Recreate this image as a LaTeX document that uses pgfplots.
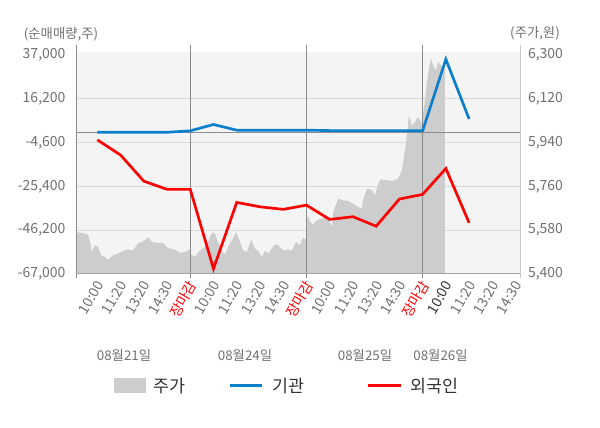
\documentclass[border=0pt]{standalone}
\usepackage{pgfplots}
\pgfplotsset{compat=1.18}
\usepackage{fontspec}
\setmainfont{Noto Sans CJK KR}
\definecolor{bgc}{HTML}{F4F4F4}
\definecolor{gridc}{HTML}{D9D9D9}
\definecolor{areac}{HTML}{CDCDCD}
\definecolor{darkc}{HTML}{8C8C8C}
\definecolor{tickc}{HTML}{707070}
\definecolor{bluec}{HTML}{0A7FCC}
\definecolor{redc}{HTML}{FF0000}
\definecolor{legc}{HTML}{333333}
\begin{document}
\begin{tikzpicture}
\useasboundingbox (0,0) rectangle (450pt,321pt);
% price axis (right)
\begin{axis}[
  at={(57pt,115.5pt)}, anchor=south west,
  width=333pt, height=166.5pt, scale only axis,
  xmin=-0.917, xmax=18.19,
  ymin=5400, ymax=6312.3,
  ytick={5580,5760,5940,6120},
  extra y ticks={5400,6300},
  extra y tick style={grid=none},
  yticklabel pos=right,
  xtick=\empty,
  axis line style={draw=none},
  major tick length=0pt,
  ymajorgrids, grid style={color=gridc, line width=0.75pt},
  axis background/.style={fill=bgc},
  scaled y ticks=false,
  yticklabel style={font=\fontsize{10.5}{12}\selectfont, text=tickc, anchor=west, inner sep=0pt, xshift=5.8pt},
  /pgf/number format/.cd, 1000 sep={,}, assume math mode=true,
]
\addplot[fill=areac, draw=none] coordinates {
(-0.917,5400) (-0.917,5572) (-0.74,5570) (-0.53,5566) (-0.40,5560) (-0.31,5532)
(-0.23,5490) (-0.10,5518) (0.03,5511) (0.16,5477) (0.33,5470) (0.46,5459)
(0.68,5477) (0.89,5484) (1.19,5497) (1.32,5500) (1.54,5497) (1.75,5525)
(1.97,5534) (2.18,5550) (2.35,5532) (2.57,5528) (2.80,5529) (3.04,5507)
(3.34,5500) (3.56,5488) (3.77,5490) (3.99,5501) (4.00,5484) (4.20,5470)
(4.42,5497) (4.63,5511) (4.76,5532) (4.94,5570) (5.07,5566) (5.19,5532)
(5.37,5490) (5.50,5481) (5.62,5511) (5.80,5539) (5.97,5572) (6.14,5532)
(6.27,5497) (6.44,5490) (6.61,5541) (6.79,5504) (6.92,5494) (7.09,5470)
(7.22,5497) (7.35,5484) (7.65,5522) (7.78,5518) (7.99,5497) (8.21,5500)
(8.38,5497) (8.55,5532) (8.72,5518) (8.85,5550) (8.98,5541) (9.02,5621)
(9.07,5641) (9.15,5614) (9.28,5604) (9.45,5621) (9.67,5628) (9.88,5641)
(10.10,5593) (10.14,5650) (10.36,5710) (10.57,5703) (10.79,5700) (11.00,5689)
(11.22,5675) (11.39,5669) (11.43,5703) (11.61,5751) (11.82,5744) (11.95,5723)
(12.04,5758) (12.17,5788) (12.47,5785) (12.72,5782) (12.94,5792) (13.11,5826)
(13.24,5908) (13.33,5977) (13.41,6052) (13.54,6011) (13.67,6025) (13.80,6045)
(13.97,6018) (14.02,6060) (14.10,6114) (14.19,6189) (14.27,6244) (14.36,6285)
(14.45,6258) (14.57,6237) (14.66,6271) (14.79,6258) (14.88,6244) (14.96,6244)
(14.96,5400)
} \closedcycle;
\end{axis}
% separators and spines (pixel coordinates)
\begin{scope}[x=0.75pt,y=-0.75pt,shift={(0pt,321pt)}]
\draw[color=darkc, line width=0.75pt] (76,132.8) -- (520,132.8);
\draw[color=darkc, line width=0.75pt] (190.26,44.7) -- (190.26,278);
\draw[color=darkc, line width=0.75pt] (306.46,44.7) -- (306.46,278);
\draw[color=darkc, line width=0.75pt] (422.66,44.7) -- (422.66,278);
\draw[color=darkc, line width=0.75pt] (76,44.7) -- (76,278);
\draw[color=gridc!80!darkc, line width=0.75pt] (520,44.7) -- (520,278);
\draw[color=darkc!80!white, line width=0.75pt] (76,274) -- (520,274);
\end{scope}
% net buying axis (left)
\begin{axis}[
  at={(57pt,115.5pt)}, anchor=south west,
  width=333pt, height=166.5pt, scale only axis,
  xmin=-0.917, xmax=18.19,
  ymin=-67000, ymax=38425,
  ytick={-67000,-46200,-25400,-4600,16200,37000},
  scaled y ticks=false,
  xtick={0,1,2,3,4,5,6,7,8,9,10,11,12,13,14,15,16,17,18},
  xticklabels={10:00,11:20,13:20,14:30,{\color{redc}장마감},10:00,11:20,13:20,14:30,{\color{redc}장마감},10:00,11:20,13:20,14:30,{\color{redc}장마감},{\color{legc}10:00},11:20,13:20,14:30},
  axis line style={draw=none},
  major tick length=0pt,
  clip=false,
  yticklabel style={font=\fontsize{10.5}{12}\selectfont, text=tickc, anchor=east, inner sep=0pt, xshift=-7.7pt},
  xticklabel style={font=\fontsize{10.5}{12}\selectfont, text=tickc, yshift=-6pt, xshift=2pt, rotate=60, anchor=east, inner sep=0pt},
  /pgf/number format/.cd, 1000 sep={,}, assume math mode=true,
]
\addplot[color=bluec, line width=2pt] coordinates {
(0,300) (1,300) (2,300) (3,300) (4,1000) (5,4000) (6,1300) (7,1300) (8,1300)
(9,1300) (10,1100) (11,1100) (12,1100) (13,1100) (14,1000) (15,35000) (16,6600)
};
\addplot[color=redc, line width=2pt] coordinates {
(0,-3300) (1,-10500) (2,-22900) (3,-26800) (4,-26800) (5,-64500) (6,-33000)
(7,-35100) (8,-36300) (9,-34300) (10,-41100) (11,-39800) (12,-44300)
(13,-31400) (14,-29200) (15,-16900) (16,-42700)
};
\end{axis}
% titles, dates, legend (pixel coordinates)
\begin{scope}[x=0.75pt,y=-0.75pt,shift={(0pt,321pt)}]
\node[font=\fontsize{10}{12}\selectfont, text=tickc] at (61,34) {(순매매량,주)};
\node[font=\fontsize{10}{12}\selectfont, text=tickc] at (535,33) {(주가,원)};
\node[font=\fontsize{10}{12}\selectfont, text=tickc] at (124,355) {08월21일};
\node[font=\fontsize{10}{12}\selectfont, text=tickc] at (245,355) {08월24일};
\node[font=\fontsize{10}{12}\selectfont, text=tickc] at (365,355) {08월25일};
\node[font=\fontsize{10}{12}\selectfont, text=tickc] at (440.5,355) {08월26일};
\fill[areac] (114,378.5) rectangle (146,393);
\node[font=\fontsize{13}{15}\selectfont, text=legc, anchor=west, inner sep=0pt] at (153,386) {주가};
\draw[bluec, line width=2.25pt] (230,386) -- (262,386);
\node[font=\fontsize{13}{15}\selectfont, text=legc, anchor=west, inner sep=0pt] at (272,386) {기관};
\draw[redc, line width=2.25pt] (368,386) -- (401,386);
\node[font=\fontsize{13}{15}\selectfont, text=legc, anchor=west, inner sep=0pt] at (410,386) {외국인};
\end{scope}
\end{tikzpicture}
\end{document}
